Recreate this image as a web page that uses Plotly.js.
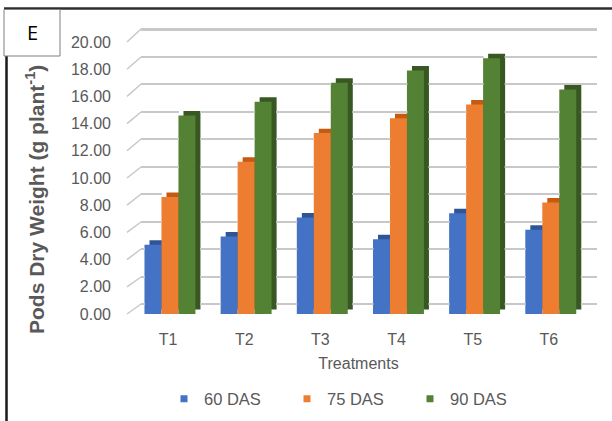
<!DOCTYPE html>
<html>
<head>
<meta charset="utf-8">
<script src="https://cdn.plot.ly/plotly-3.0.1.min.js"></script>
<style>html,body{margin:0;padding:0;background:#fff;}#chart{width:612px;height:421px;}</style>
</head>
<body>
<div id="chart"></div>
<script>
// ---- data ----
var categories = ['T1', 'T2', 'T3', 'T4', 'T5', 'T6'];
var das60 = [5.1, 5.7, 7.1, 5.5, 7.4, 6.2];
var das75 = [8.6, 11.2, 13.3, 14.4, 15.4, 8.2];
var das90 = [14.6, 15.6, 17.0, 17.9, 18.8, 16.5];
var seriesNames = ['60 DAS', '75 DAS', '90 DAS'];
var yTickVals = [0, 2, 4, 6, 8, 10, 12, 14, 16, 18, 20];
var yTickText = ['0.00', '2.00', '4.00', '6.00', '8.00', '10.00', '12.00', '14.00', '16.00', '18.00', '20.00'];

// ---- styling ----
var W = 612, H = 421;
var ML = 130, MR = 25, MT = 42, MB = 107;
var PW = W - ML - MR, PH = H - MT - MB;
var DW = 457;                 // x domain width in px
var UNIT = DW / categories.length;
var PXV = PH / 20;            // px per value unit (front plane)
function px(x) { return (x - ML) / PW; }
function py(y) { return (H - MB - y) / PH; }

var frontColors = ['#4472C4', '#ED7D31', '#548235'];
var topColors = ['#2F5597', '#C55A11', '#385723'];
var gridColor = '#c8c8c8';
var barW = 0.223, off0 = -0.31, dx = 0.066, depth = 0.33;
var seriesVals = [das60, das75, das90];
var xIdx = categories.map(function (c, i) { return i; });

var traces = [];
// legend entries
for (var s = 0; s < 3; s++) {
  traces.push({
    type: 'scatter', mode: 'markers', x: [null], y: [null], name: seriesNames[s],
    marker: { symbol: 'square', size: 7, color: frontColors[s] },
    hoverinfo: 'skip', showlegend: true
  });
}
// depth (top/side) faces
for (var s = 0; s < 3; s++) {
  traces.push({
    type: 'bar', x: xIdx, y: seriesVals[s], base: depth,
    offset: off0 + s * barW + dx, width: barW,
    marker: { color: topColors[s], line: { width: 0 } },
    showlegend: false, hoverinfo: 'skip'
  });
}
// front faces
for (var s = 0; s < 3; s++) {
  traces.push({
    type: 'bar', x: xIdx, y: seriesVals[s],
    offset: off0 + s * barW, width: barW,
    marker: { color: frontColors[s], line: { width: 0 } },
    name: seriesNames[s], showlegend: false
  });
}

var shapes = [];
// back-wall gridlines (broken where columns stand in front) and perspective ticks
var GX0 = 141, GX1 = 597;
yTickVals.forEach(function (v) {
  var yBack = Math.round(304 - v * 13.75), yFront = 314 - v * 13.6;
  var thick = v === 20 ? 3 : 2;
  var occ = [];
  for (var i = 0; i < categories.length; i++) {
    for (var k = 0; k < 3; k++) {
      var topPx = (H - MB) - (seriesVals[k][i] + depth) * PXV;
      if (topPx < yBack + 1) {
        var left = ML + (i + 0.5 + off0 + k * barW) * UNIT;
        occ.push([left + 0.5, left + (barW + dx) * UNIT - 0.5]);
      }
    }
  }
  occ.sort(function (a, b) { return a[0] - b[0]; });
  var cur = GX0;
  var segs = [];
  occ.forEach(function (iv) {
    if (iv[0] > cur) segs.push([cur, iv[0]]);
    cur = Math.max(cur, iv[1]);
  });
  if (cur < GX1) segs.push([cur, GX1]);
  segs.forEach(function (sg) {
    shapes.push({ type: 'rect', xref: 'paper', yref: 'paper',
      x0: px(sg[0]), y0: py(yBack - 1), x1: px(sg[1]), y1: py(yBack - 1 + thick),
      fillcolor: gridColor, line: { width: 0 } });
  });
  shapes.push({ type: 'line', xref: 'paper', yref: 'paper',
    x0: px(127), y0: py(yFront), x1: px(GX0), y1: py(yBack),
    line: { color: gridColor, width: 1.5 } });
});
// frame
shapes.push({ type: 'line', xref: 'paper', yref: 'paper', x0: px(4), x1: px(612), y0: py(8.5), y1: py(8.5),
  line: { color: '#2e2e2e', width: 2.5 } });
shapes.push({ type: 'line', xref: 'paper', yref: 'paper', x0: px(6.5), x1: px(6.5), y0: py(56), y1: py(430),
  line: { color: '#1a1a1a', width: 2.5 } });
shapes.push({ type: 'rect', xref: 'paper', yref: 'paper', x0: px(4), x1: px(60), y0: py(9.5), y1: py(56),
  line: { color: '#7f7f7f', width: 1 }, fillcolor: '#ffffff' });

var layout = {
  width: W, height: H,
  margin: { l: ML, r: MR, t: MT, b: MB },
  paper_bgcolor: '#ffffff', plot_bgcolor: 'rgba(0,0,0,0)',
  font: { family: 'Liberation Sans, Arial, sans-serif', color: '#595959', size: 16 },
  barmode: 'overlay',
  showlegend: true,
  legend: {
    orientation: 'h', xref: 'container', yref: 'container',
    x: 164 / W, xanchor: 'left', y: (H - 399) / H, yanchor: 'middle',
    font: { size: 16.5, color: '#595959' }, itemwidth: 30,
    entrywidth: 78, entrywidthmode: 'pixels', bgcolor: 'rgba(0,0,0,0)'
  },
  xaxis: { domain: [0, DW / PW], range: [-0.5, 5.5],
    tickvals: xIdx, ticktext: categories, showgrid: false, zeroline: false,
    showline: false, ticks: '', ticklabelstandoff: 14, automargin: false,
    tickfont: { size: 16, color: '#595959' },
    title: { text: 'Treatments', font: { size: 16, color: '#595959' }, standoff: 10 } },
  yaxis: { domain: [0, 1], range: [0, 20],
    tickvals: yTickVals, ticktext: yTickText, showgrid: false, zeroline: false,
    showline: false, ticks: '', ticklabelstandoff: 18, automargin: false,
    tickfont: { size: 16, color: '#595959' } },
  shapes: shapes,
  annotations: [{
    xref: 'paper', yref: 'paper', x: px(32), y: py(33), text: 'E', showarrow: false,
    xanchor: 'center', yanchor: 'middle',
    font: { family: 'Open Sans, sans-serif', size: 20, color: '#000000' }
  }, {
    xref: 'paper', yref: 'paper', x: px(35), y: py(200), textangle: -90,
    text: 'Pods Dry Weight (g plant<sup>-1</sup>)', showarrow: false,
    xanchor: 'center', yanchor: 'middle',
    font: { family: 'Liberation Sans, Arial, sans-serif', size: 21, color: '#595959', weight: 'bold' }
  }]
};

Plotly.newPlot('chart', traces, layout, { displayModeBar: false, staticPlot: true });
</script>
</body>
</html>
